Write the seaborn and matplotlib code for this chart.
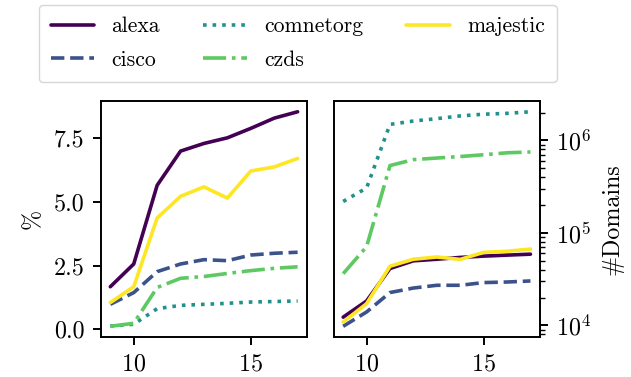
import numpy as np
import pandas as pd
import matplotlib
matplotlib.use("Agg")
import matplotlib.pyplot as plt
import seaborn as sns

# Top-list coverage per version
versions = [9, 10, 11, 12, 13, 14, 15, 16, 17]
lists = ["alexa", "cisco", "comnetorg", "czds", "majestic"]

pct_alexa = [1.67, 2.56, 5.64, 6.98, 7.28, 7.50, 7.87, 8.27, 8.52]
pct_cisco = [0.98, 1.44, 2.26, 2.56, 2.73, 2.69, 2.91, 2.98, 3.02]
pct_comnetorg = [0.13, 0.20, 0.81, 0.94, 0.98, 1.02, 1.07, 1.09, 1.11]
pct_czds = [0.12, 0.24, 1.64, 2.00, 2.07, 2.19, 2.30, 2.39, 2.45]
pct_majestic = [1.05, 1.67, 4.36, 5.21, 5.58, 5.14, 6.20, 6.36, 6.69]

dom_alexa = [1.23e4, 1.84e4, 4.13e4, 5.0e4, 5.2e4, 5.44e4, 5.62e4, 5.76e4, 5.9e4]
dom_cisco = [9.8e3, 1.4e4, 2.27e4, 2.54e4, 2.72e4, 2.72e4, 2.91e4, 2.95e4, 3.03e4]
dom_comnetorg = [2.19e5, 3.06e5, 1.49e6, 1.62e6, 1.72e6, 1.84e6, 1.92e6, 1.96e6, 2.04e6]
dom_czds = [3.63e4, 7.1e4, 5.35e5, 6.2e5, 6.45e5, 6.7e5, 7.0e5, 7.35e5, 7.5e5]
dom_majestic = [1.09e4, 1.72e4, 4.37e4, 5.2e4, 5.5e4, 5.18e4, 6.17e4, 6.35e4, 6.7e4]

pct = [pct_alexa, pct_cisco, pct_comnetorg, pct_czds, pct_majestic]
dom = [dom_alexa, dom_cisco, dom_comnetorg, dom_czds, dom_majestic]

rows = []
for name, p, d in zip(lists, pct, dom):
    for v, pv, dv in zip(versions, p, d):
        rows.append({"version": v, "list": name, "pct": pv, "domains": dv})
df = pd.DataFrame(rows)

sns.set_style("ticks")
plt.rcParams.update({
    "font.family": ["cmr10", "DejaVu Serif"],
    "mathtext.fontset": "cm",
    "axes.formatter.use_mathtext": True,
    "font.size": 17.3,
    "axes.linewidth": 1.4,
    "xtick.major.width": 1.4,
    "ytick.major.width": 1.4,
    "ytick.minor.width": 1.0,
    "xtick.major.size": 6,
    "ytick.major.size": 6,
    "ytick.minor.size": 3.5,
    "xtick.major.pad": 6,
    "ytick.major.pad": 6,
    "ytick.minor.pad": 6,
    "xtick.direction": "out",
    "ytick.direction": "out",
    "axes.edgecolor": "black",
    "xtick.color": "black",
    "ytick.color": "black",
    "text.color": "black",
    "axes.labelcolor": "black",
})

palette = {
    "alexa": "#440154",
    "cisco": "#3b528b",
    "comnetorg": "#21918c",
    "czds": "#5ec962",
    "majestic": "#fde725",
}
dashes = {
    "alexa": "",
    "cisco": (3.7, 1.6),
    "comnetorg": (1, 1.65),
    "czds": (6.4, 1.6, 1, 1.6),
    "majestic": "",
}

fig = plt.figure(figsize=(6.31, 3.77), dpi=100)
ax1 = fig.add_axes([0.160, 0.106, 0.3265, 0.626])
ax2 = fig.add_axes([0.529, 0.106, 0.3265, 0.626])

sns.lineplot(data=df, x="version", y="pct", hue="list", style="list",
             palette=palette, dashes=dashes, linewidth=2.6, ax=ax1, legend=True)
sns.lineplot(data=df, x="version", y="domains", hue="list", style="list",
             palette=palette, dashes=dashes, linewidth=2.6, ax=ax2, legend=False)

ax1.set_xlabel("")
ax1.set_ylabel("%", labelpad=7)
ax1.set_yticks([0.0, 2.5, 5.0, 7.5])
ax1.set_yticklabels(["0.0", "2.5", "5.0", "7.5"])
ax1.set_xticks([10, 15])

ax2.set_yscale("log")
ax2.set_xlabel("")
ax2.yaxis.tick_right()
ax2.yaxis.set_label_position("right")
ax2.set_ylabel("#Domains", labelpad=7)
ax2.set_xticks([10, 15])

for ax in (ax1, ax2):
    for s in ax.spines.values():
        s.set_visible(True)
        s.set_linewidth(1.4)

handles, labels = ax1.get_legend_handles_labels()
ax1.get_legend().remove()
fig.legend(handles, labels, loc="upper center", bbox_to_anchor=(0.472, 0.987),
           borderaxespad=0, ncol=3, labelspacing=0.65, borderpad=0.55,
           frameon=True, fancybox=True, edgecolor="0.8", fontsize=15.6)

fig.savefig("out.png", dpi=100)
